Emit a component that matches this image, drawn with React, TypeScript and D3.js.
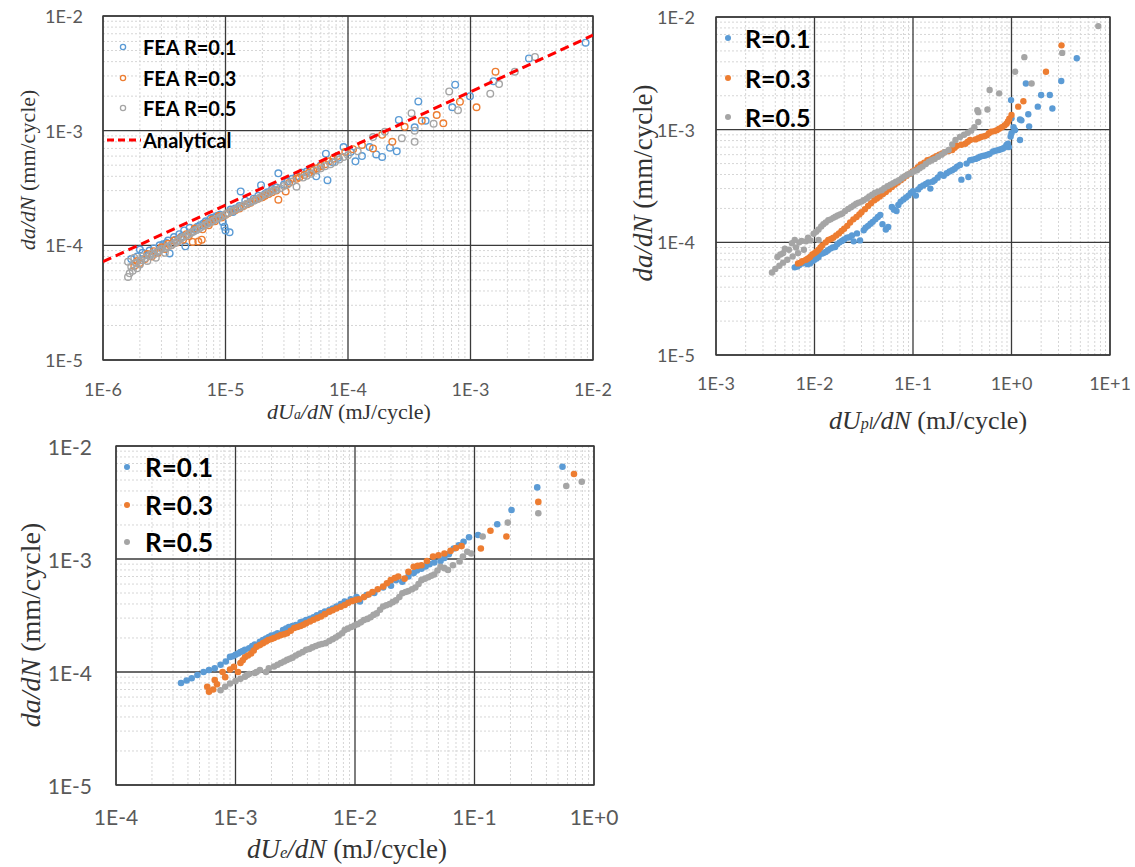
import React from 'react';
import * as d3 from 'd3';

type Pt = [number, number];

const BLUE = '#5B9BD5';
const ORANGE = '#ED7D31';
const GRAY = '#A5A5A5';

// ---------- Panel A: dUa/dN ----------
const feaR01: Pt[] = [
  [1.7e-6, 7.6e-5], [1.9e-6, 8.0e-5], [2.1e-6, 8.6e-5], [2.3e-6, 8.2e-5], [2.6e-6, 9.4e-5], [2.8e-6, 8.8e-5],
  [3.1e-6, 1.02e-4], [3.5e-6, 8.5e-5], [3.4e-6, 1.1e-4], [3.8e-6, 1.18e-4], [4.2e-6, 1.25e-4], [4.7e-6, 9.8e-5],
  [4.6e-6, 1.35e-4], [5.1e-6, 1.42e-4], [5.6e-6, 1.38e-4], [6.2e-6, 1.5e-4], [6.9e-6, 1.62e-4], [7.6e-6, 1.72e-4],
  [8.5e-6, 1.8e-4], [9.5e-6, 1.6e-4], [1.0e-5, 1.35e-4], [1.08e-5, 1.3e-4], [9.8e-6, 1.45e-4], [1.1e-5, 2.05e-4],
  [1.2e-5, 2.1e-4], [1.33e-5, 2.95e-4], [1.5e-5, 2.3e-4], [1.7e-5, 2.55e-4], [1.95e-5, 3.35e-4], [2.1e-5, 2.8e-4],
  [2.4e-5, 3.1e-4], [2.7e-5, 4.25e-4], [3.0e-5, 3.4e-4], [3.5e-5, 3.8e-4], [4.2e-5, 4.3e-4], [5.0e-5, 4.6e-4],
  [5.5e-5, 4.0e-4], [6.6e-5, 6.3e-4], [6.8e-5, 3.7e-4], [7.5e-5, 5.3e-4], [9.2e-5, 7.2e-4], [1.15e-4, 5.4e-4],
  [1.3e-4, 6.0e-4], [1.5e-4, 7.2e-4], [1.7e-4, 6.2e-4], [1.9e-4, 5.9e-4], [2.2e-4, 7.1e-4], [2.5e-4, 6.6e-4],
  [2.6e-4, 1.24e-3], [3.5e-4, 1.07e-3], [3.75e-4, 1.8e-3], [4.3e-4, 1.22e-3], [7.1e-4, 1.6e-3], [7.5e-4, 2.52e-3],
  [9.9e-4, 2.0e-3], [1.54e-3, 2.7e-3], [3.0e-3, 4.27e-3], [8.7e-3, 5.85e-3],
  [2.0e-6, 9.2e-5], [2.4e-6, 9.0e-5], [2.9e-6, 1.0e-4], [3.3e-6, 1.05e-4], [3.9e-6, 1.12e-4], [4.4e-6, 1.2e-4],
  [5.3e-6, 1.3e-4], [5.9e-6, 1.45e-4], [6.6e-6, 1.55e-4], [7.2e-6, 1.6e-4], [8.0e-6, 1.75e-4], [9.0e-6, 1.85e-4],
  [1.15e-5, 1.95e-4], [1.3e-5, 2.2e-4], [1.45e-5, 2.45e-4], [1.6e-5, 2.4e-4], [1.85e-5, 2.7e-4], [2.2e-5, 2.9e-4],
  [2.6e-5, 3.2e-4], [3.2e-5, 3.6e-4], [3.8e-5, 4.0e-4], [4.6e-5, 4.4e-4], [6.0e-5, 5.0e-4], [8.3e-5, 5.8e-4],
  [1.05e-4, 6.5e-4],
];
const feaR03: Pt[] = [
  [1.8e-6, 6.6e-5], [2.0e-6, 7.0e-5], [2.2e-6, 7.6e-5], [2.5e-6, 8.0e-5], [2.8e-6, 8.6e-5], [3.2e-6, 9.3e-5],
  [3.6e-6, 1.0e-4], [4.0e-6, 1.06e-4], [4.5e-6, 1.12e-4], [5.0e-6, 1.2e-4], [5.4e-6, 1.07e-4], [6.0e-6, 1.08e-4],
  [6.4e-6, 1.12e-4], [6.5e-6, 1.38e-4], [7.3e-6, 1.5e-4], [8.2e-6, 1.62e-4], [9.3e-6, 1.75e-4], [1.05e-5, 1.9e-4],
  [1.2e-5, 2.02e-4], [1.4e-5, 2.2e-4], [1.6e-5, 2.35e-4], [1.85e-5, 2.55e-4], [2.1e-5, 2.7e-4], [2.4e-5, 2.9e-4],
  [2.7e-5, 2.5e-4], [3.1e-5, 2.95e-4], [3.3e-5, 3.5e-4], [3.8e-5, 3.8e-4], [4.4e-5, 4.1e-4], [5.2e-5, 4.5e-4],
  [6.0e-5, 4.9e-4], [7.0e-5, 5.4e-4], [8.2e-5, 6.0e-4], [9.5e-5, 6.5e-4], [1.1e-4, 6.9e-4], [1.3e-4, 7.5e-4],
  [1.6e-4, 7.0e-4], [1.9e-4, 9.2e-4], [2.3e-4, 8.0e-4], [2.9e-4, 1.08e-3], [4.0e-4, 1.22e-3], [5.3e-4, 1.37e-3],
  [6.0e-4, 1.16e-3], [8.2e-4, 1.79e-3], [1.12e-3, 1.6e-3], [1.6e-3, 3.27e-3],
  [1.9e-6, 7.3e-5], [2.3e-6, 8.4e-5], [2.6e-6, 8.9e-5], [3.0e-6, 9.6e-5], [3.4e-6, 1.03e-4], [3.8e-6, 1.1e-4],
  [4.3e-6, 1.16e-4], [4.8e-6, 1.25e-4], [5.6e-6, 1.4e-4], [6.9e-6, 1.55e-4], [7.8e-6, 1.68e-4], [8.8e-6, 1.8e-4],
  [1.0e-5, 1.85e-4], [1.12e-5, 1.98e-4], [1.3e-5, 2.1e-4], [1.5e-5, 2.28e-4], [1.75e-5, 2.5e-4], [2.0e-5, 2.62e-4],
  [2.25e-5, 2.8e-4], [2.6e-5, 3.0e-4], [4.0e-5, 3.9e-4], [4.8e-5, 4.3e-4], [5.6e-5, 4.7e-4], [6.5e-5, 5.1e-4],
  [7.6e-5, 5.7e-4],
];
const feaR05: Pt[] = [
  [1.6e-6, 5.3e-5], [1.65e-6, 5.7e-5], [1.6e-6, 7.2e-5], [1.75e-6, 6.0e-5], [1.9e-6, 6.3e-5], [1.8e-6, 7.8e-5],
  [2.0e-6, 6.8e-5], [2.1e-6, 8.0e-5], [2.3e-6, 7.3e-5], [2.5e-6, 8.5e-5], [2.7e-6, 7.8e-5], [2.9e-6, 9.0e-5],
  [3.2e-6, 8.6e-5], [3.4e-6, 9.8e-5], [3.8e-6, 1.04e-4], [4.1e-6, 1.1e-4], [4.5e-6, 1.18e-4], [5.0e-6, 1.25e-4],
  [5.5e-6, 1.32e-4], [6.1e-6, 1.4e-4], [6.8e-6, 1.5e-4], [7.6e-6, 1.6e-4], [8.4e-6, 1.7e-4], [9.4e-6, 1.8e-4],
  [1.05e-5, 1.92e-4], [1.18e-5, 2.03e-4], [1.32e-5, 2.15e-4], [1.5e-5, 2.3e-4], [1.7e-5, 2.45e-4], [1.9e-5, 2.6e-4],
  [2.15e-5, 2.8e-4], [2.45e-5, 3.0e-4], [2.8e-5, 3.15e-4], [3.2e-5, 3.4e-4], [3.8e-5, 3.25e-4], [4.3e-5, 3.9e-4],
  [5.0e-5, 4.2e-4], [6.0e-5, 4.7e-4], [7.2e-5, 5.1e-4], [8.5e-5, 5.6e-4], [1.0e-4, 6.1e-4], [1.2e-4, 6.6e-4],
  [1.6e-4, 8.8e-4], [2.0e-4, 9.8e-4], [2.75e-4, 8.6e-4], [3.3e-4, 1.42e-3], [3.5e-4, 8.0e-4], [3.5e-4, 1.0e-3],
  [5.0e-4, 1.15e-3], [6.7e-4, 2.2e-3], [7.9e-4, 1.51e-3], [1.45e-3, 2.1e-3], [1.71e-3, 2.55e-3], [2.3e-3, 3.27e-3],
  [3.36e-3, 4.4e-3],
  [1.7e-6, 6.5e-5], [1.85e-6, 7.0e-5], [2.05e-6, 7.4e-5], [2.2e-6, 7.7e-5], [2.4e-6, 8.1e-5], [2.6e-6, 8.3e-5],
  [2.8e-6, 8.8e-5], [3.0e-6, 9.3e-5], [3.3e-6, 9.5e-5], [3.6e-6, 1.0e-4], [4.0e-6, 1.07e-4], [4.3e-6, 1.14e-4],
  [4.8e-6, 1.21e-4], [5.2e-6, 1.28e-4], [5.8e-6, 1.36e-4], [6.4e-6, 1.45e-4], [7.2e-6, 1.55e-4], [8.0e-6, 1.65e-4],
  [8.9e-6, 1.75e-4], [1.0e-5, 1.86e-4], [1.12e-5, 1.98e-4], [1.25e-5, 2.1e-4], [1.4e-5, 2.22e-4], [1.6e-5, 2.38e-4],
  [1.8e-5, 2.52e-4], [2.0e-5, 2.7e-4], [2.3e-5, 2.9e-4], [2.6e-5, 3.05e-4], [3.0e-5, 3.3e-4], [3.5e-5, 3.6e-4],
  [4.6e-5, 4.05e-4], [5.5e-5, 4.5e-4], [6.5e-5, 4.9e-4], [7.8e-5, 5.3e-4], [9.2e-5, 5.9e-4],
];
const analyticalX = [1e-6, 1e-2];
const analyticalY = [7.2e-5, 6.8e-3];
const panelAXTicks = ['1E-6', '1E-5', '1E-4', '1E-3', '1E-2'];

// ---------- Panel B: dUpl/dN ----------
const plR01: Pt[] = [
  [6.3e-3, 6.0e-5], [7.0e-3, 6.3e-5], [8.0e-3, 6.6e-5], [9.0e-3, 6.5e-5], [1.0e-2, 7.0e-5], [1.1e-2, 7.4e-5],
  [1.17e-2, 7.9e-5], [1.3e-2, 8.2e-5], [1.45e-2, 8.8e-5], [1.62e-2, 9.1e-5], [1.8e-2, 1.0e-4], [2.0e-2, 1.06e-4],
  [2.26e-2, 1.11e-4], [2.5e-2, 1.02e-4], [2.7e-2, 1.2e-4], [2.9e-2, 1.04e-4], [3.16e-2, 1.28e-4], [3.5e-2, 1.4e-4],
  [3.9e-2, 1.52e-4], [4.4e-2, 1.68e-4], [4.9e-2, 1.45e-4], [5.3e-2, 1.3e-4], [5.6e-2, 1.37e-4], [6.1e-2, 2.06e-4],
  [6.8e-2, 1.9e-4], [7.5e-2, 2.3e-4], [8.5e-2, 2.5e-4], [9.5e-2, 2.75e-4], [1.07e-1, 2.6e-4], [1.19e-1, 3.1e-4],
  [1.35e-1, 3.3e-4], [1.5e-1, 3.0e-4], [1.66e-1, 3.56e-4], [1.9e-1, 4.0e-4], [2.2e-1, 4.1e-4], [2.5e-1, 4.36e-4],
  [2.8e-1, 4.7e-4], [3.1e-1, 3.6e-4], [3.5e-1, 5.0e-4], [3.65e-1, 3.8e-4], [3.8e-1, 5.35e-4], [4.3e-1, 5.5e-4],
  [4.8e-1, 5.75e-4], [5.4e-1, 5.9e-4], [6.0e-1, 6.1e-4], [6.5e-1, 6.4e-4], [7.4e-1, 6.6e-4], [8.2e-1, 6.8e-4],
  [8.9e-1, 7.3e-4], [9.4e-1, 7.0e-4], [9.8e-1, 8.7e-4], [1.09, 9.9e-4], [1.0, 1.26e-3], [0.99, 1.83e-3],
  [1.22, 8.1e-4], [1.22, 1.23e-3], [1.26, 1.21e-3], [1.48, 1.37e-3], [1.51, 1.07e-3], [1.4, 2.57e-3],
  [1.85, 1.6e-3], [2.0, 2.03e-3], [2.45, 2.03e-3], [2.6, 1.54e-3], [3.2, 2.7e-3], [4.6, 4.3e-3],
  [6.7e-3, 6.1e-5], [7.5e-3, 6.5e-5], [8.5e-3, 6.4e-5], [9.5e-3, 6.8e-5], [1.05e-2, 7.2e-5], [1.23e-2, 8.0e-5],
  [1.37e-2, 8.5e-5], [1.53e-2, 9.0e-5], [1.7e-2, 9.6e-5], [1.9e-2, 1.03e-4], [2.13e-2, 1.1e-4], [2.4e-2, 1.15e-4],
  [3.3e-2, 1.35e-4], [3.7e-2, 1.46e-4], [4.15e-2, 1.6e-4], [4.65e-2, 1.75e-4], [6.4e-2, 1.95e-4], [7.1e-2, 2.15e-4],
  [8.0e-2, 2.4e-4], [9.0e-2, 2.6e-4], [1.0e-1, 2.85e-4], [1.13e-1, 2.95e-4], [1.27e-1, 3.2e-4], [1.43e-1, 3.4e-4],
  [1.58e-1, 3.45e-4], [1.78e-1, 3.75e-4], [2.05e-1, 3.9e-4], [2.35e-1, 4.25e-4], [2.65e-1, 4.5e-4], [3.0e-1, 4.85e-4],
  [4.0e-1, 5.4e-4], [4.55e-1, 5.6e-4], [5.1e-1, 5.85e-4], [5.7e-1, 6.0e-4], [6.9e-1, 6.5e-4], [7.8e-1, 6.7e-4],
  [8.6e-1, 7.0e-4], [9.2e-1, 7.5e-4], [1.0, 9.3e-4], [1.05, 1.05e-3],
];
const plR03: Pt[] = [
  [6.8e-3, 6.5e-5], [7.5e-3, 6.8e-5], [8.2e-3, 7.0e-5], [9.0e-3, 7.4e-5], [1.0e-2, 8.0e-5], [1.1e-2, 8.6e-5],
  [1.2e-2, 9.4e-5], [1.38e-2, 1.05e-4], [1.55e-2, 1.1e-4], [1.77e-2, 1.2e-4], [2.0e-2, 1.32e-4], [2.3e-2, 1.5e-4],
  [2.67e-2, 1.68e-4], [3.0e-2, 1.85e-4], [3.5e-2, 2.1e-4], [4.05e-2, 2.36e-4], [4.6e-2, 2.55e-4], [5.3e-2, 2.8e-4],
  [6.1e-2, 3.1e-4], [7.0e-2, 3.4e-4], [8.0e-2, 3.7e-4], [9.3e-2, 4.07e-4], [1.05e-1, 4.4e-4], [1.2e-1, 4.9e-4],
  [1.4e-1, 5.35e-4], [1.6e-1, 5.6e-4], [1.85e-1, 6.0e-4], [2.1e-1, 6.3e-4], [2.5e-1, 6.6e-4], [2.8e-1, 7.2e-4],
  [3.4e-1, 7.5e-4], [3.8e-1, 8.1e-4], [4.3e-1, 8.2e-4], [4.9e-1, 8.6e-4], [5.6e-1, 8.9e-4], [6.2e-1, 9.6e-4],
  [7.1e-1, 9.9e-4], [8.0e-1, 1.05e-3], [8.9e-1, 1.13e-3], [9.5e-1, 1.25e-3], [1.0, 1.35e-3], [1.17, 1.6e-3],
  [1.32, 1.79e-3], [2.24, 3.27e-3], [3.22, 5.6e-3],
  [7.2e-3, 6.6e-5], [8.6e-3, 7.2e-5], [9.5e-3, 7.8e-5], [1.05e-2, 8.3e-5], [1.15e-2, 9.0e-5], [1.3e-2, 1.0e-4],
  [1.47e-2, 1.07e-4], [1.66e-2, 1.15e-4], [1.88e-2, 1.26e-4], [2.15e-2, 1.4e-4], [2.48e-2, 1.6e-4], [2.85e-2, 1.77e-4],
  [3.25e-2, 1.97e-4], [3.75e-2, 2.22e-4], [4.3e-2, 2.45e-4], [4.95e-2, 2.68e-4], [5.7e-2, 2.95e-4], [6.5e-2, 3.25e-4],
  [7.5e-2, 3.55e-4], [8.6e-2, 3.9e-4], [9.9e-2, 4.25e-4], [1.12e-1, 4.65e-4], [1.3e-1, 5.1e-4], [1.5e-1, 5.45e-4],
  [1.72e-1, 5.8e-4], [1.98e-1, 6.15e-4], [2.3e-1, 6.45e-4], [2.65e-1, 6.9e-4], [3.1e-1, 7.35e-4], [3.6e-1, 7.8e-4],
  [4.6e-1, 8.4e-4], [5.3e-1, 8.75e-4], [5.9e-1, 9.3e-4], [6.7e-1, 9.7e-4], [7.5e-1, 1.02e-3], [8.5e-1, 1.09e-3],
  [0.92, 1.18e-3],
];
const plR05: Pt[] = [
  [3.7e-3, 5.4e-5], [4.0e-3, 5.8e-5], [4.4e-3, 6.2e-5], [4.2e-3, 7.4e-5], [4.8e-3, 6.6e-5], [4.8e-3, 8.0e-5],
  [5.3e-3, 7.0e-5], [5.5e-3, 8.6e-5], [5.9e-3, 9.8e-5], [6.0e-3, 7.5e-5], [6.8e-3, 8.0e-5], [7.0e-3, 1.0e-4],
  [7.8e-3, 8.6e-5], [8.2e-3, 1.02e-4], [9.1e-3, 1.04e-4], [9.8e-3, 1.19e-4], [1.1e-2, 1.3e-4], [1.1e-2, 1.05e-4],
  [1.23e-2, 1.45e-4], [1.38e-2, 1.57e-4], [1.55e-2, 1.65e-4], [1.72e-2, 1.73e-4], [1.92e-2, 1.8e-4], [2.2e-2, 1.98e-4],
  [2.5e-2, 2.12e-4], [2.8e-2, 2.25e-4], [3.16e-2, 2.36e-4], [3.6e-2, 2.55e-4], [4.1e-2, 2.75e-4], [4.8e-2, 2.9e-4],
  [5.5e-2, 3.15e-4], [6.3e-2, 3.35e-4], [7.2e-2, 3.56e-4], [8.2e-2, 3.85e-4], [9.5e-2, 4.1e-4], [1.1e-1, 4.36e-4],
  [1.25e-1, 4.7e-4], [1.45e-1, 5.2e-4], [1.66e-1, 5.5e-4], [1.95e-1, 6.0e-4], [2.3e-1, 6.6e-4], [2.5e-1, 7.4e-4],
  [2.7e-1, 8.1e-4], [3.0e-1, 8.6e-4], [3.3e-1, 9.0e-4], [3.6e-1, 9.4e-4], [0.46, 1.17e-3], [0.45, 1.49e-3],
  [0.46, 1.43e-3], [0.57, 1.51e-3], [0.6, 2.25e-3], [0.75, 2.1e-3], [1.09, 3.27e-3], [1.35, 4.4e-3],
  [1.6, 2.57e-3], [3.27, 4.8e-3], [7.6, 8.3e-3],
  [4.5e-3, 7.8e-5], [5.0e-3, 8.8e-5], [6.3e-3, 1.05e-4], [6.5e-3, 9.0e-5], [7.4e-3, 1.03e-4], [8.6e-3, 1.1e-4],
  [1.04e-2, 1.24e-4], [1.17e-2, 1.38e-4], [1.3e-2, 1.5e-4], [1.46e-2, 1.6e-4], [1.63e-2, 1.69e-4], [1.82e-2, 1.77e-4],
  [2.05e-2, 1.9e-4], [2.35e-2, 2.05e-4], [2.65e-2, 2.2e-4], [3.0e-2, 2.3e-4], [3.4e-2, 2.45e-4], [3.85e-2, 2.65e-4],
  [4.4e-2, 2.82e-4], [5.1e-2, 3.02e-4], [5.9e-2, 3.25e-4], [6.7e-2, 3.45e-4], [7.7e-2, 3.7e-4], [8.8e-2, 4.0e-4],
  [1.02e-1, 4.25e-4], [1.17e-1, 4.55e-4], [1.35e-1, 4.95e-4], [1.55e-1, 5.35e-4], [1.8e-1, 5.75e-4], [2.1e-1, 6.3e-4],
  [0.39, 9.8e-4], [0.42, 1.05e-3],
];
const panelBXTicks = ['1E-3', '1E-2', '1E-1', '1E+0', '1E+1'];

// ---------- Panel C: dUe/dN ----------
const eR01: Pt[] = [
  [3.5e-4, 8.0e-5], [3.9e-4, 8.4e-5], [4.3e-4, 8.8e-5], [4.8e-4, 9.4e-5], [5.4e-4, 1.0e-4], [6.0e-4, 1.04e-4],
  [6.7e-4, 1.08e-4], [7.5e-4, 1.16e-4], [8.3e-4, 1.24e-4], [9.0e-4, 1.36e-4], [1.0e-3, 1.42e-4], [1.1e-3, 1.5e-4],
  [1.2e-3, 1.57e-4], [1.3e-3, 1.62e-4], [1.45e-3, 1.75e-4], [1.6e-3, 1.85e-4], [1.8e-3, 1.98e-4], [2.0e-3, 2.1e-4],
  [2.25e-3, 2.2e-4], [2.5e-3, 2.35e-4], [2.8e-3, 2.5e-4], [3.2e-3, 2.6e-4], [3.5e-3, 2.75e-4], [3.9e-3, 2.88e-4],
  [4.5e-3, 3.05e-4], [5.2e-3, 3.3e-4], [6.1e-3, 3.54e-4], [7.0e-3, 3.8e-4], [8.2e-3, 4.2e-4], [1.03e-2, 4.6e-4],
  [1.1e-2, 4.2e-4], [1.25e-2, 4.8e-4], [1.45e-2, 5.0e-4], [1.72e-2, 5.6e-4], [2.0e-2, 5.8e-4], [2.2e-2, 6.5e-4],
  [2.49e-2, 6.3e-4], [2.8e-2, 7.0e-4], [3.1e-2, 7.5e-4], [3.6e-2, 8.2e-4], [4.2e-2, 9.0e-4], [5.2e-2, 9.6e-4],
  [6.1e-2, 1.1e-3], [6.7e-2, 1.24e-3], [8.1e-2, 1.42e-3], [9.0e-2, 1.56e-3], [1.07e-1, 1.63e-3], [1.55e-1, 2.03e-3],
  [2.04e-1, 2.71e-3], [3.35e-1, 4.3e-3], [5.45e-1, 6.56e-3],
  [9.5e-4, 1.38e-4], [1.05e-3, 1.46e-4], [1.15e-3, 1.53e-4], [1.38e-3, 1.7e-4], [1.7e-3, 1.92e-4], [1.9e-3, 2.04e-4],
  [2.15e-3, 2.15e-4], [2.65e-3, 2.42e-4], [3.0e-3, 2.55e-4], [3.7e-3, 2.8e-4], [4.2e-3, 2.95e-4], [4.8e-3, 3.18e-4],
  [5.6e-3, 3.42e-4], [6.5e-3, 3.65e-4], [7.6e-3, 4.0e-4], [9.2e-3, 4.4e-4], [3.3e-2, 7.9e-4], [3.9e-2, 8.6e-4],
  [4.6e-2, 9.3e-4], [5.6e-2, 1.02e-3], [7.4e-2, 1.32e-3],
];
const eR03: Pt[] = [
  [5.8e-4, 7.4e-5], [6.0e-4, 6.7e-5], [6.5e-4, 7.0e-5], [6.7e-4, 8.5e-5], [7.0e-4, 7.8e-5], [7.8e-4, 1.0e-4],
  [8.2e-4, 9.0e-5], [9.0e-4, 1.05e-4], [9.7e-4, 1.11e-4], [1.05e-3, 1.0e-4], [1.1e-3, 1.2e-4], [1.2e-3, 1.35e-4],
  [1.35e-3, 1.46e-4], [1.5e-3, 1.67e-4], [1.7e-3, 1.8e-4], [1.88e-3, 1.92e-4], [2.1e-3, 2.0e-4], [2.4e-3, 2.12e-4],
  [2.7e-3, 2.2e-4], [3.1e-3, 2.45e-4], [3.5e-3, 2.55e-4], [3.9e-3, 2.7e-4], [4.5e-3, 2.9e-4], [5.2e-3, 3.1e-4],
  [6.1e-3, 3.42e-4], [7.0e-3, 3.65e-4], [8.2e-3, 3.92e-4], [9.5e-3, 4.25e-4], [1.08e-2, 4.4e-4], [1.19e-2, 4.6e-4],
  [1.4e-2, 5.1e-4], [1.72e-2, 5.7e-4], [1.99e-2, 6.5e-4], [2.3e-2, 7.0e-4], [2.6e-2, 6.7e-4], [3.1e-2, 8.55e-4],
  [3.6e-2, 8.8e-4], [4.5e-2, 1.05e-3], [5.6e-2, 1.12e-3], [7.0e-2, 1.25e-3], [1.13e-1, 1.24e-3], [1.36e-1, 1.78e-3],
  [1.85e-1, 1.58e-3], [3.42e-1, 3.2e-3], [6.8e-1, 5.65e-3],
  [1.15e-3, 1.27e-4], [1.27e-3, 1.4e-4], [1.42e-3, 1.55e-4], [1.6e-3, 1.73e-4], [1.8e-3, 1.86e-4], [2.0e-3, 1.96e-4],
  [2.25e-3, 2.06e-4], [2.55e-3, 2.16e-4], [2.9e-3, 2.32e-4], [3.3e-3, 2.5e-4], [3.7e-3, 2.62e-4], [4.2e-3, 2.8e-4],
  [4.85e-3, 3.0e-4], [5.6e-3, 3.25e-4], [6.5e-3, 3.52e-4], [7.6e-3, 3.78e-4], [8.8e-3, 4.1e-4], [1.02e-2, 4.35e-4],
  [1.3e-2, 4.85e-4], [1.55e-2, 5.4e-4], [1.85e-2, 6.1e-4], [2.15e-2, 6.8e-4], [2.8e-2, 7.7e-4], [3.35e-2, 8.7e-4],
  [4.0e-2, 9.6e-4], [5.0e-2, 1.08e-3], [6.3e-2, 1.18e-3], [7.8e-2, 1.3e-3],
];
const eR05: Pt[] = [
  [7.5e-4, 6.9e-5], [8.2e-4, 7.4e-5], [9.0e-4, 7.9e-5], [1.0e-3, 8.3e-5], [1.1e-3, 8.7e-5], [1.2e-3, 9.1e-5],
  [1.3e-3, 9.6e-5], [1.45e-3, 9.8e-5], [1.6e-3, 1.04e-4], [1.8e-3, 1.0e-4], [1.9e-3, 1.08e-4], [2.1e-3, 1.12e-4],
  [2.4e-3, 1.2e-4], [2.7e-3, 1.28e-4], [3.0e-3, 1.34e-4], [3.4e-3, 1.45e-4], [3.9e-3, 1.57e-4], [4.4e-3, 1.65e-4],
  [5.0e-3, 1.74e-4], [5.7e-3, 1.8e-4], [6.5e-3, 1.95e-4], [7.3e-3, 2.1e-4], [8.2e-3, 2.35e-4], [9.3e-3, 2.5e-4],
  [1.05e-2, 2.65e-4], [1.19e-2, 2.88e-4], [1.35e-2, 3.05e-4], [1.52e-2, 3.3e-4], [1.72e-2, 3.8e-4], [1.95e-2, 4.0e-4],
  [2.2e-2, 4.3e-4], [2.49e-2, 4.97e-4], [2.8e-2, 5.2e-4], [3.2e-2, 5.6e-4], [3.6e-2, 6.5e-4], [4.1e-2, 6.9e-4],
  [4.6e-2, 7.3e-4], [5.2e-2, 8.55e-4], [6.0e-2, 8.0e-4], [7.5e-2, 9.5e-4], [8.7e-2, 1.16e-3], [9.4e-2, 1.12e-3],
  [1.17e-1, 1.58e-3], [1.9e-1, 2.1e-3], [3.42e-1, 2.54e-3], [5.86e-1, 4.43e-3], [7.9e-1, 4.83e-3],
  [1.25e-3, 9.4e-5], [1.5e-3, 1.0e-4], [2.25e-3, 1.16e-4], [2.55e-3, 1.24e-4], [2.85e-3, 1.31e-4], [3.2e-3, 1.4e-4],
  [3.65e-3, 1.5e-4], [4.15e-3, 1.6e-4], [4.7e-3, 1.7e-4], [5.3e-3, 1.77e-4], [6.1e-3, 1.88e-4], [6.9e-3, 2.02e-4],
  [7.8e-3, 2.2e-4], [8.7e-3, 2.42e-4], [9.9e-3, 2.58e-4], [1.12e-2, 2.75e-4], [1.27e-2, 2.95e-4], [1.43e-2, 3.2e-4],
  [1.62e-2, 3.55e-4], [1.83e-2, 3.9e-4], [2.07e-2, 4.15e-4], [2.35e-2, 4.6e-4], [2.65e-2, 5.1e-4], [3.0e-2, 5.4e-4],
  [3.4e-2, 6.0e-4], [3.85e-2, 6.7e-4], [4.35e-2, 7.1e-4], [4.9e-2, 7.9e-4], [5.6e-2, 8.3e-4], [6.6e-2, 8.8e-4],
  [8.0e-2, 1.05e-3],
];
const panelCXTicks = ['1E-4', '1E-3', '1E-2', '1E-1', '1E+0'];

const yTickLabels = ['1E-5', '1E-4', '1E-3', '1E-2'];

const labelsA = ['FEA R=0.1', 'FEA R=0.3', 'FEA R=0.5', 'Analytical'];
const labelsR = ['R=0.1', 'R=0.3', 'R=0.5'];

type Series = { name: string; data: Pt[]; color: string; hollow: boolean };

type PanelCfg = {
  left: number; right: number; top: number; bottom: number;
  xTicks: string[];
  tickSize: number; xLabelY: number; yLabelRight: number;
  series: Series[];
  markerR: number;
  analytical?: { xs: number[]; ys: number[] };
  legend: { markerX: number; textX: number; ys: number[]; size: number; labels: string[] };
  xTitle: { sub: string; x: number; y: number; size: number };
  yTitle: { x: number; y: number; size: number };
};

const TICK_FONT = 'Lato, "Open Sans", sans-serif';
const SERIF = '"Liberation Serif", "DejaVu Serif", serif';

function Panel({ cfg }: { cfg: PanelCfg }) {
  const xVals = cfg.xTicks.map(Number);
  const yVals = yTickLabels.map(Number);
  const x = d3.scaleLog().domain([xVals[0], xVals[xVals.length - 1]]).range([cfg.left, cfg.right]);
  const y = d3.scaleLog().domain([1e-5, 1e-2]).range([cfg.bottom, cfg.top]);

  const minorX: number[] = [];
  for (let i = 0; i < xVals.length - 1; i++) for (let k = 2; k <= 9; k++) minorX.push(xVals[i] * k);
  const minorY: number[] = [];
  for (let i = 0; i < yVals.length - 1; i++) for (let k = 2; k <= 9; k++) minorY.push(yVals[i] * k);

  const clipId = `clip-${cfg.left}-${cfg.top}`;
  const line = d3.line<number>().x((_, i) => x(cfg.analytical!.xs[i])).y((_, i) => y(cfg.analytical!.ys[i]));

  return (
    <g>
      <defs>
        <clipPath id={clipId}>
          <rect x={cfg.left} y={cfg.top} width={cfg.right - cfg.left} height={cfg.bottom - cfg.top} />
        </clipPath>
      </defs>
      {minorX.map((v, i) => (
        <line key={'mx' + i} x1={x(v)} x2={x(v)} y1={cfg.top} y2={cfg.bottom} stroke="#d6d6d6" strokeWidth={1} strokeDasharray="2,2" />
      ))}
      {minorY.map((v, i) => (
        <line key={'my' + i} y1={y(v)} y2={y(v)} x1={cfg.left} x2={cfg.right} stroke="#d6d6d6" strokeWidth={1} strokeDasharray="2,2" />
      ))}
      {xVals.map((v, i) => (
        <line key={'gx' + i} x1={x(v)} x2={x(v)} y1={cfg.top} y2={cfg.bottom} stroke="#3a3a3a" strokeWidth={1.3} />
      ))}
      {yVals.map((v, i) => (
        <line key={'gy' + i} y1={y(v)} y2={y(v)} x1={cfg.left} x2={cfg.right} stroke="#3a3a3a" strokeWidth={1.3} />
      ))}
      <rect x={cfg.left} y={cfg.top} width={cfg.right - cfg.left} height={cfg.bottom - cfg.top} fill="none" stroke="#3a3a3a" strokeWidth={1.4} />

      <g clipPath={`url(#${clipId})`}>
        {cfg.series.map((s) => (
          <g key={s.name}>
            {s.data.map((d, i) => (
              <circle
                key={i}
                cx={x(d[0])}
                cy={y(d[1])}
                r={cfg.markerR}
                fill={s.hollow ? 'none' : s.color}
                stroke={s.color}
                strokeWidth={s.hollow ? 1.4 : 0}
              />
            ))}
          </g>
        ))}
        {cfg.analytical && (
          <path d={line(cfg.analytical.xs) || ''} fill="none" stroke="#ff0000" strokeWidth={3} strokeDasharray="9,5" />
        )}
      </g>

      {cfg.xTicks.map((t, i) => (
        <text key={'xt' + i} x={x(xVals[i])} y={cfg.xLabelY} textAnchor="middle" dominantBaseline="central"
          fontFamily={TICK_FONT} fontSize={cfg.tickSize} fill="#595959">{t}</text>
      ))}
      {yTickLabels.map((t, i) => (
        <text key={'yt' + i} x={cfg.yLabelRight} y={y(yVals[i])} textAnchor="end" dominantBaseline="central"
          fontFamily={TICK_FONT} fontSize={cfg.tickSize} fill="#595959">{t}</text>
      ))}

      {cfg.legend.labels.map((lab, i) => {
        const ly = cfg.legend.ys[i];
        const s = cfg.series[i];
        return (
          <g key={'lg' + i}>
            {s ? (
              <circle cx={cfg.legend.markerX} cy={ly} r={s.hollow ? 2.6 : 3}
                fill={s.hollow ? 'none' : s.color} stroke={s.color} strokeWidth={s.hollow ? 1.3 : 0} />
            ) : (
              <line x1={cfg.legend.markerX - 16} x2={cfg.legend.textX - 2} y1={ly} y2={ly}
                stroke="#ff0000" strokeWidth={3} strokeDasharray="7,4" />
            )}
            <text x={cfg.legend.textX} y={ly} dominantBaseline="central" fontFamily={TICK_FONT}
              fontWeight={700} fontSize={cfg.legend.size} fill="#000">{lab}</text>
          </g>
        );
      })}

      <text x={cfg.xTitle.x} y={cfg.xTitle.y} textAnchor="middle" fontFamily={SERIF} fontSize={cfg.xTitle.size} fill="#333">
        <tspan fontStyle="italic">dU</tspan>
        <tspan fontStyle="italic" fontSize={cfg.xTitle.size * 0.62}>{cfg.xTitle.sub}</tspan>
        <tspan fontStyle="italic">/dN</tspan>
        <tspan> (mJ/cycle)</tspan>
      </text>
      <text transform={`translate(${cfg.yTitle.x},${cfg.yTitle.y}) rotate(-90)`} textAnchor="middle" dominantBaseline="central"
        fontFamily={SERIF} fontSize={cfg.yTitle.size} fill="#333">
        <tspan fontStyle="italic">da/dN</tspan>
        <tspan> (mm/cycle)</tspan>
      </text>
    </g>
  );
}

const panelA: PanelCfg = {
  left: 103, right: 593, top: 16, bottom: 360,
  xTicks: panelAXTicks, tickSize: 18, xLabelY: 389, yLabelRight: 83,
  series: [
    { name: labelsA[0], data: feaR01, color: BLUE, hollow: true },
    { name: labelsA[1], data: feaR03, color: ORANGE, hollow: true },
    { name: labelsA[2], data: feaR05, color: GRAY, hollow: true },
  ],
  markerR: 3.3,
  analytical: { xs: analyticalX, ys: analyticalY },
  legend: { markerX: 123, textX: 143, ys: [47, 78, 108, 140], size: 20, labels: labelsA },
  xTitle: { sub: 'a', x: 349, y: 419, size: 22 },
  yTitle: { x: 27, y: 170, size: 22 },
};

const panelB: PanelCfg = {
  left: 716, right: 1110, top: 17, bottom: 355,
  xTicks: panelBXTicks, tickSize: 18, xLabelY: 383, yLabelRight: 695,
  series: [
    { name: labelsR[0], data: plR01, color: BLUE, hollow: false },
    { name: labelsR[1], data: plR03, color: ORANGE, hollow: false },
    { name: labelsR[2], data: plR05, color: GRAY, hollow: false },
  ],
  markerR: 3.2,
  legend: { markerX: 728, textX: 745, ys: [38, 78, 117], size: 25, labels: labelsR },
  xTitle: { sub: 'pl', x: 928, y: 429, size: 26 },
  yTitle: { x: 643, y: 183, size: 27 },
};

const panelC: PanelCfg = {
  left: 116, right: 594, top: 446, bottom: 785,
  xTicks: panelCXTicks, tickSize: 21, xLabelY: 816, yLabelRight: 92,
  series: [
    { name: labelsR[0], data: eR01, color: BLUE, hollow: false },
    { name: labelsR[1], data: eR03, color: ORANGE, hollow: false },
    { name: labelsR[2], data: eR05, color: GRAY, hollow: false },
  ],
  markerR: 3.3,
  legend: { markerX: 127, textX: 145, ys: [467, 505, 542], size: 26, labels: labelsR },
  xTitle: { sub: 'e', x: 347, y: 858, size: 27 },
  yTitle: { x: 30, y: 625, size: 28 },
};

export default function App() {
  return (
    <svg width={1135} height={867} style={{ position: 'absolute', left: 0, top: 0, background: '#fff' }}>
      <rect x={0} y={0} width={1135} height={867} fill="#fff" />
      <Panel cfg={panelA} />
      <Panel cfg={panelB} />
      <Panel cfg={panelC} />
    </svg>
  );
}
